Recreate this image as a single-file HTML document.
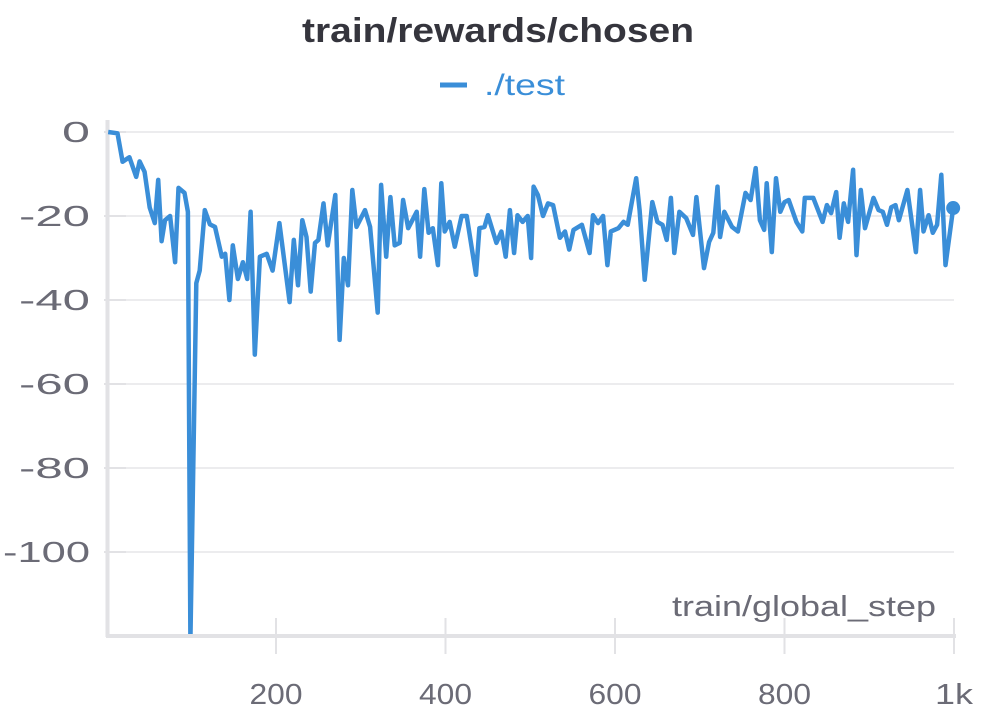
<!DOCTYPE html>
<html><head><meta charset="utf-8"><style>
body{margin:0;background:#fff;width:996px;height:711px;overflow:hidden}
text{font-family:"Liberation Sans",sans-serif}
</style></head><body>
<svg id="chart" width="996" height="711" xmlns="http://www.w3.org/2000/svg">
<text x="302" y="42" textLength="392" lengthAdjust="spacingAndGlyphs" font-size="34" font-weight="bold" fill="#35353d">train/rewards/chosen</text>
<g>
<line x1="440" y1="85" x2="467" y2="85" stroke="#3a8ed8" stroke-width="5"/>
<text x="484" y="95" textLength="81" lengthAdjust="spacingAndGlyphs" font-size="30" fill="#3a8ed8">./test</text>
</g>
<g id="grid"></g>
<g id="axes"></g>
<g id="series"></g>
<text x="672" y="616" textLength="264" lengthAdjust="spacingAndGlyphs" font-size="29" fill="#6b6b76">train/global_step</text>
</svg>
<script>
const steps=[2,13,19,27,35,39,45,51,57,61,65,69,75,81,85,92,96,99,106,110,116,122,128,136,140,145,149,155,161,166,170,175,181,189,196,204,216,221,226,231,236,241,246,250,256,261,270,275,280,285,290,295,305,311,320,324,330,335,340,346,350,356,366,370,375,380,385,391,395,399,405,411,419,425,436,440,446,450,460,466,471,476,481,485,491,497,501,504,509,515,521,527,535,541,546,551,561,570,574,580,586,591,595,604,610,615,625,629,635,644,650,656,661,666,670,676,684,692,696,705,711,716,721,724,729,738,745,754,760,766,771,776,779,785,790,795,800,805,814,821,824,834,845,850,855,861,865,870,875,881,885,890,895,905,911,916,921,926,931,935,945,955,960,964,970,975,980,985,990,999];
const rewards=[0,-0.3,-7.1,-6,-10.7,-7,-9.5,-18,-21.7,-11.4,-26,-21,-20,-31,-13.3,-14.5,-19,-121,-36,-33,-18.6,-22,-22.6,-29.7,-29,-40,-27,-35,-31,-35,-19,-53,-29.7,-29,-33,-21.7,-40.5,-25.7,-36.5,-21,-25,-38,-26.4,-25.7,-17,-27,-15,-49.5,-30,-36.5,-13.8,-22.6,-18.6,-22.6,-43,-12.6,-29.7,-15.5,-27,-26.4,-16.2,-22.9,-19,-29.7,-13.6,-24,-22.9,-31.7,-12.2,-23.7,-21.4,-27.3,-20,-20,-34,-22.9,-22.6,-19.8,-26.4,-23.7,-29.7,-18.6,-28.8,-19.8,-21.4,-20,-30,-13,-15,-20,-17,-17.4,-25.2,-23.7,-28,-23.3,-22.1,-28.8,-19.8,-21.7,-20,-31.7,-23.7,-22.9,-21.4,-22.1,-11,-18.6,-35.2,-16.7,-21.4,-22.1,-25.7,-15.7,-28.8,-19,-20.5,-24.5,-15.5,-32.4,-26.2,-24,-13,-25,-19,-22.6,-23.7,-14.5,-16.2,-8.6,-21,-23.3,-12.2,-28.6,-11,-19,-16.7,-16.2,-21.4,-23.7,-15.7,-15.7,-21.4,-17.4,-19.3,-14.3,-25.2,-17,-21.4,-9,-29.3,-13.8,-22.9,-15.7,-18.6,-19,-22.1,-17.9,-17.4,-21,-13.8,-28.6,-13.8,-23.7,-19.8,-24,-22.1,-10.2,-31.7,-18.1];
const yTicks=[0,-20,-40,-60,-80,-100];
const yTickLabels=["0","-20","-40","-60","-80","-100"];
const xTicks=[200,400,600,800,1000];
const xTickLabels=["200","400","600","800","1k"];
const X0=106.5,XS=0.8475,Y0=132,YS=4.2,BOTTOM=634;
const sx=v=>X0+v*XS, sy=v=>Y0-v*YS;
const NS="http://www.w3.org/2000/svg";
function mk(t,a,p){const e=document.createElementNS(NS,t);for(const k in a)e.setAttribute(k,a[k]);p.appendChild(e);return e;}
const grid=document.getElementById('grid'),axes=document.getElementById('axes'),ser=document.getElementById('series');
yTicks.forEach((v,i)=>{
  const l=mk('line',{x1:106,x2:954,y1:sy(v),y2:sy(v),stroke:'#e6e6e9','stroke-width':1.5},grid);
  
  
  const tk=mk('line',{x1:104,x2:126,y1:sy(v),y2:sy(v),stroke:'#e2e2e5','stroke-width':2},axes);
  
  
  const lab=yTickLabels[i];
  const w=lab.length===1?28:(lab.length===3?71:87);
  const t=mk('text',{x:90-w,y:sy(v)+10,textLength:w,lengthAdjust:'spacingAndGlyphs','font-size':29,fill:'#6b6b76'},axes);
  t.textContent=lab;
  
  
});
const ya=mk('line',{x1:107.5,x2:107.5,y1:120,y2:637,stroke:'#e2e2e5','stroke-width':4},axes);


const xa=mk('line',{x1:106,x2:956,y1:636,y2:636,stroke:'#e2e2e5','stroke-width':4},axes);


xTicks.forEach((v,i)=>{
  const tk=mk('line',{x1:sx(v),x2:sx(v),y1:618,y2:654,stroke:'#e2e2e5','stroke-width':2},axes);
  
  
  const lab=xTickLabels[i];
  const w=lab.length===3?53:38;
  const t=mk('text',{x:sx(v)-w/2,y:704,textLength:w,lengthAdjust:'spacingAndGlyphs','font-size':29,fill:'#6b6b76'},axes);
  t.textContent=lab;
  
  
});
mk('clipPath',{id:'clip'},document.getElementById('chart'));
mk('rect',{x:100,y:100,width:880,height:BOTTOM-100},document.getElementById('clip'));
const d=steps.map((s,i)=>(i?'L':'M')+sx(s).toFixed(1)+','+sy(rewards[i]).toFixed(1)).join('');
const p=mk('path',{d:d,fill:'none',stroke:'#3a8ed8','stroke-width':4.5,'stroke-linejoin':'round','clip-path':'url(#clip)'},ser);


const n=steps.length-1;
const c=mk('circle',{cx:sx(steps[n]),cy:sy(rewards[n]),r:7,fill:'#3a8ed8'},ser);


</script>
</body></html>
